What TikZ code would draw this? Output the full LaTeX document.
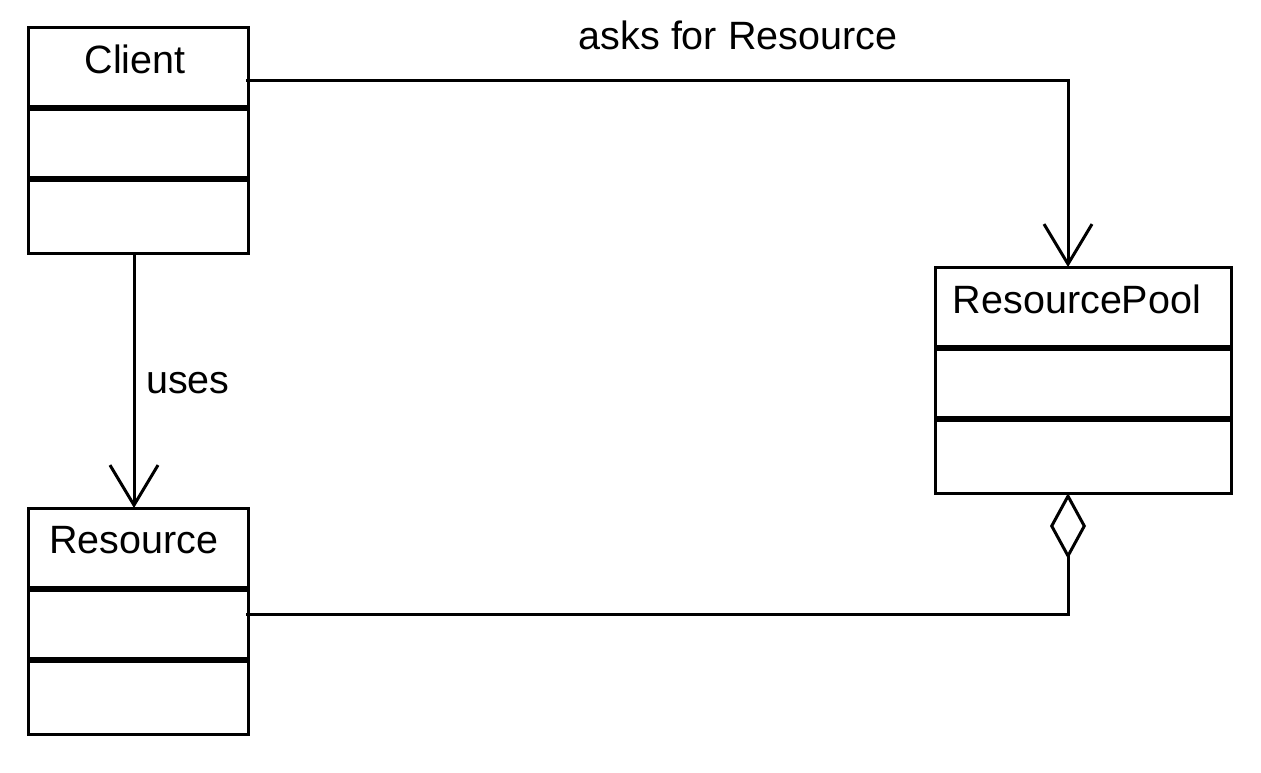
\documentclass[tikz,border=0pt]{standalone}
\usepackage{fontspec}
\setmainfont{Liberation Sans}
\usetikzlibrary{arrows.meta}
\begin{document}
\begin{tikzpicture}[x=1pt,y=-1pt,
  classbox/.style={draw,line width=3pt,rectangle,outer sep=0pt,inner sep=0pt,minimum height=226pt},
  sepline/.style={line width=6pt},
  lbl/.style={font=\fontsize{39.5}{46}\selectfont,inner sep=0pt,anchor=base},
  conn/.style={line width=3pt},
  navarrow/.style={conn,-{Straight Barb[length=40pt,width=48pt]}},
  aggr/.style={conn,{Diamond[open,length=66pt,width=36pt]}-}
]
\useasboundingbox (0,0) rectangle (1261,772);

% class boxes
\node[classbox,minimum width=220pt] (client) at (138,140) {};
\node[classbox,minimum width=220pt] (resource) at (138,621) {};
\node[classbox,minimum width=296pt] (pool) at (1083,380) {};

% compartment separators
\foreach \c in {client,resource,pool}{
  \draw[sepline] ([yshift=-81pt]\c.north west) -- ([yshift=-81pt]\c.north east);
  \draw[sepline] ([yshift=-152pt]\c.north west) -- ([yshift=-152pt]\c.north east);
}

% class names
\node[lbl] (clientname) at (135,73) {Client};
\node[lbl] (resourcename) at (134,553) {Resource};
\node[lbl] (poolname) at (1077,313) {ResourcePool};

% connectors
\draw[navarrow] ([yshift=60pt,xshift=-2pt]client.east) -| ([xshift=-15pt]pool.north);
\node[lbl] (asks) at (738,49) {asks for Resource};
\draw[navarrow] ([xshift=-4pt]client.south) -- ([xshift=-4pt]resource.north);
\node[lbl] (uses) at (188,393) {uses};
\draw[aggr] ([xshift=-15pt]pool.south) |- ([yshift=7pt,xshift=-2pt]resource.east);
\end{tikzpicture}
\end{document}
